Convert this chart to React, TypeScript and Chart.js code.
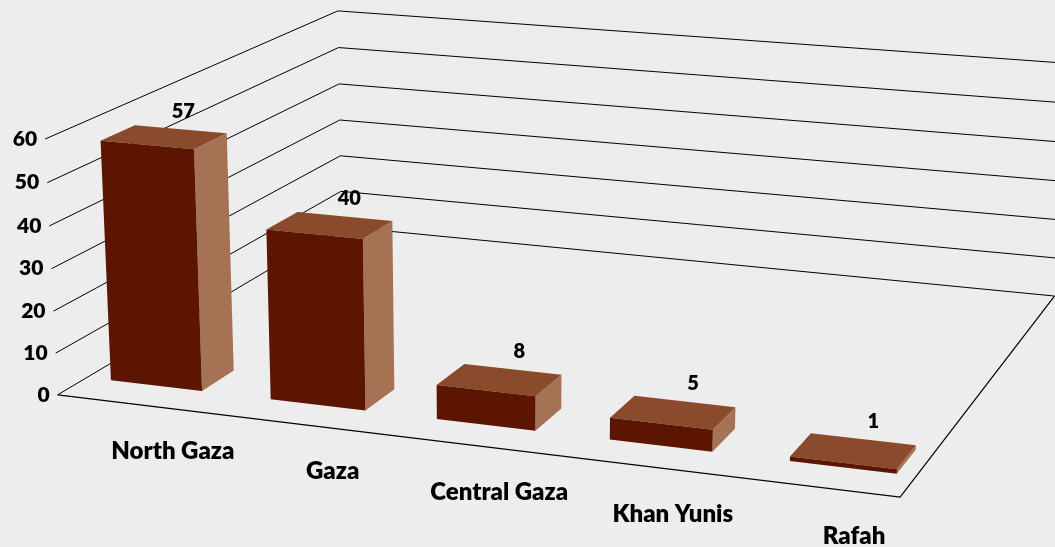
import React, { useEffect, useRef } from "react";
import { Chart, registerables } from "chart.js";

Chart.register(...registerables);

// ---------- data ----------
const categories = ["North Gaza", "Gaza", "Central Gaza", "Khan Yunis", "Rafah"];
const values = [57, 40, 8, 5, 1];
const yTicks = [0, 10, 20, 30, 40, 50, 60];
const Y_MAX = 60;

// ---------- layout / style ----------
const W = 1055;
const H = 547;
const BG = "#EDEDED";
const COLOR_FRONT = "#5C1500";
const COLOR_TOP = "#8A4A2C";
const COLOR_SIDE = "#A67254";
const FONT = "Lato, 'Open Sans', sans-serif";
const WEIGHT = 800;

// floor extent as fraction of the category axis
const FLOOR_S0 = 0.0121;
const FLOOR_S1 = 0.9783;
// bar depth inside the floor (0 = front, 1 = back wall)
const BAR_Z_FRONT = 0.088;
const BAR_Z_BACK = 0.192;

// camera calibration: world (X along, Y height, Z depth) -> screen
const CALIBRATION: number[][] = [
  [0, 0, 0, 58, 395],
  [1, 0, 0, 900, 497.5],
  [0, 0, 1, 341.5, 227],
  [1, 0, 1, 1054.5, 295.5],
  [0, 1, 0, 45.3, 139],
  [0, 1, 1, 337.7, 11],
  [0, 0.5, 0, 51, 268.3],
  [0, 0.5, 1, 340, 119.7],
  [1, 1, 1, 1068.7, 63.7],
];

function solveCamera(cal: number[][]): number[] {
  const n = 11;
  const M: number[][] = Array.from({ length: n }, () => new Array(n + 1).fill(0));
  const rows: number[][] = [];
  const rhs: number[] = [];
  for (const [X, Y, Z, x, y] of cal) {
    rows.push([X, Y, Z, 1, 0, 0, 0, 0, -x * X, -x * Y, -x * Z]);
    rhs.push(x);
    rows.push([0, 0, 0, 0, X, Y, Z, 1, -y * X, -y * Y, -y * Z]);
    rhs.push(y);
  }
  rows.forEach((r, k) => {
    for (let i = 0; i < n; i++) {
      for (let j = 0; j < n; j++) M[i][j] += r[i] * r[j];
      M[i][n] += r[i] * rhs[k];
    }
  });
  for (let c = 0; c < n; c++) {
    let piv = c;
    for (let r = c + 1; r < n; r++) if (Math.abs(M[r][c]) > Math.abs(M[piv][c])) piv = r;
    [M[c], M[piv]] = [M[piv], M[c]];
    for (let r = 0; r < n; r++) {
      if (r === c) continue;
      const f = M[r][c] / M[c][c];
      for (let k = c; k <= n; k++) M[r][k] -= f * M[c][k];
    }
  }
  return M.map((row, i) => row[n] / row[i]);
}

const CAM = solveCamera(CALIBRATION);

function project(X: number, Y: number, Z: number): [number, number] {
  const p = CAM;
  const w = p[8] * X + p[9] * Y + p[10] * Z + 1;
  return [
    (p[0] * X + p[1] * Y + p[2] * Z + p[3]) / w,
    (p[4] * X + p[5] * Y + p[6] * Z + p[7]) / w,
  ];
}

function poly(ctx: CanvasRenderingContext2D, pts: [number, number][], fill: string) {
  ctx.beginPath();
  ctx.moveTo(pts[0][0], pts[0][1]);
  for (let i = 1; i < pts.length; i++) ctx.lineTo(pts[i][0], pts[i][1]);
  ctx.closePath();
  ctx.fillStyle = fill;
  ctx.fill();
}

function polyline(ctx: CanvasRenderingContext2D, pts: [number, number][]) {
  ctx.beginPath();
  ctx.moveTo(pts[0][0], pts[0][1]);
  for (let i = 1; i < pts.length; i++) ctx.lineTo(pts[i][0], pts[i][1]);
  ctx.stroke();
}

const box3dPlugin = {
  id: "box3d",
  beforeDraw(chart: any) {
    const ctx = chart.ctx as CanvasRenderingContext2D;
    ctx.save();
    ctx.fillStyle = BG;
    ctx.fillRect(0, 0, chart.width, chart.height);
    ctx.restore();
  },
  afterDatasetsDraw(chart: any) {
    const ctx = chart.ctx as CanvasRenderingContext2D;
    const area = chart.chartArea;
    const ys = chart.scales.y;
    const y0 = ys.getPixelForValue(0);
    const yTop = ys.getPixelForValue(Y_MAX);
    const tOf = (py: number) => (y0 - py) / (y0 - yTop);
    const xOf = (px: number) =>
      ((px - area.left) / (area.right - area.left) - FLOOR_S0) / (FLOOR_S1 - FLOOR_S0);

    ctx.save();
    // walls grid
    ctx.strokeStyle = "#000";
    ctx.lineWidth = 1;
    yTicks.forEach((v) => {
      const t = tOf(ys.getPixelForValue(v));
      polyline(ctx, [project(0, t, 0), project(0, t, 1), project(1, t, 1)]);
    });
    // floor edges
    ctx.lineWidth = 1.2;
    polyline(ctx, [project(0, 0, 0), project(1, 0, 0), project(1, 0, 1)]);

    // tick labels
    ctx.fillStyle = "#000";
    ctx.font = `${WEIGHT} 21px ${FONT}`;
    ctx.textAlign = "right";
    ctx.textBaseline = "middle";
    yTicks.forEach((v) => {
      const t = tOf(ys.getPixelForValue(v));
      const [px, py] = project(0, t, 0);
      ctx.fillText(String(v), px - 8, py);
    });

    // bars
    const meta = chart.getDatasetMeta(0);
    const anchors: { x: number; y: number; xc: number }[] = [];
    meta.data.forEach((el: any) => {
      const { x, y, base, width } = el.getProps(["x", "y", "base", "width"], true);
      const xl = xOf(x - width / 2);
      const xr = xOf(x + width / 2);
      const xc = xOf(x);
      const t = tOf(y);
      const tb = tOf(base);
      const zf = BAR_Z_FRONT;
      const zb = BAR_Z_BACK;
      poly(ctx, [project(xr, tb, zf), project(xr, tb, zb), project(xr, t, zb), project(xr, t, zf)], COLOR_SIDE);
      poly(ctx, [project(xl, t, zf), project(xr, t, zf), project(xr, t, zb), project(xl, t, zb)], COLOR_TOP);
      poly(ctx, [project(xl, tb, zf), project(xr, tb, zf), project(xr, t, zf), project(xl, t, zf)], COLOR_FRONT);
      const [ax, ay] = project(xc, t, zb);
      anchors.push({ x: ax, y: ay, xc });
    });

    // data labels
    ctx.fillStyle = "#000";
    ctx.font = `${WEIGHT} 20px ${FONT}`;
    ctx.textAlign = "center";
    ctx.textBaseline = "middle";
    anchors.forEach((a, i) => {
      ctx.fillText(String(values[i]), a.x + 2 + 9 * a.xc, a.y - 18);
    });

    // category labels
    ctx.font = `${WEIGHT} 24px ${FONT}`;
    ctx.textAlign = "center";
    ctx.textBaseline = "alphabetic";
    anchors.forEach((a, i) => {
      const [fx, fy] = project(a.xc, 0, 0);
      ctx.fillText(categories[i], fx + 47 - 20 * a.xc, fy + 56);
    });
    ctx.restore();
  },
};

export default function App() {
  const canvasRef = useRef<HTMLCanvasElement | null>(null);

  useEffect(() => {
    document.body.style.margin = "0";
    document.body.style.background = BG;
    const canvas = canvasRef.current;
    if (!canvas) return;
    const chart = new Chart(canvas, {
      type: "bar",
      data: {
        labels: categories,
        datasets: [
          {
            data: values,
            backgroundColor: "rgba(0,0,0,0)",
            borderWidth: 0,
            barPercentage: 0.575,
            categoryPercentage: 1,
          },
        ],
      },
      options: {
        animation: false,
        responsive: false,
        maintainAspectRatio: false,
        devicePixelRatio: 1,
        events: [],
        layout: { padding: 0 },
        plugins: {
          legend: { display: false },
          tooltip: { enabled: false },
          title: { display: false },
        },
        scales: {
          x: { display: false, offset: true },
          y: { display: false, min: 0, max: Y_MAX },
        },
      },
      plugins: [box3dPlugin],
    });
    return () => chart.destroy();
  }, []);

  return (
    <div style={{ width: W, height: H, background: BG }}>
      <canvas ref={canvasRef} width={W} height={H} style={{ display: "block" }} />
    </div>
  );
}
